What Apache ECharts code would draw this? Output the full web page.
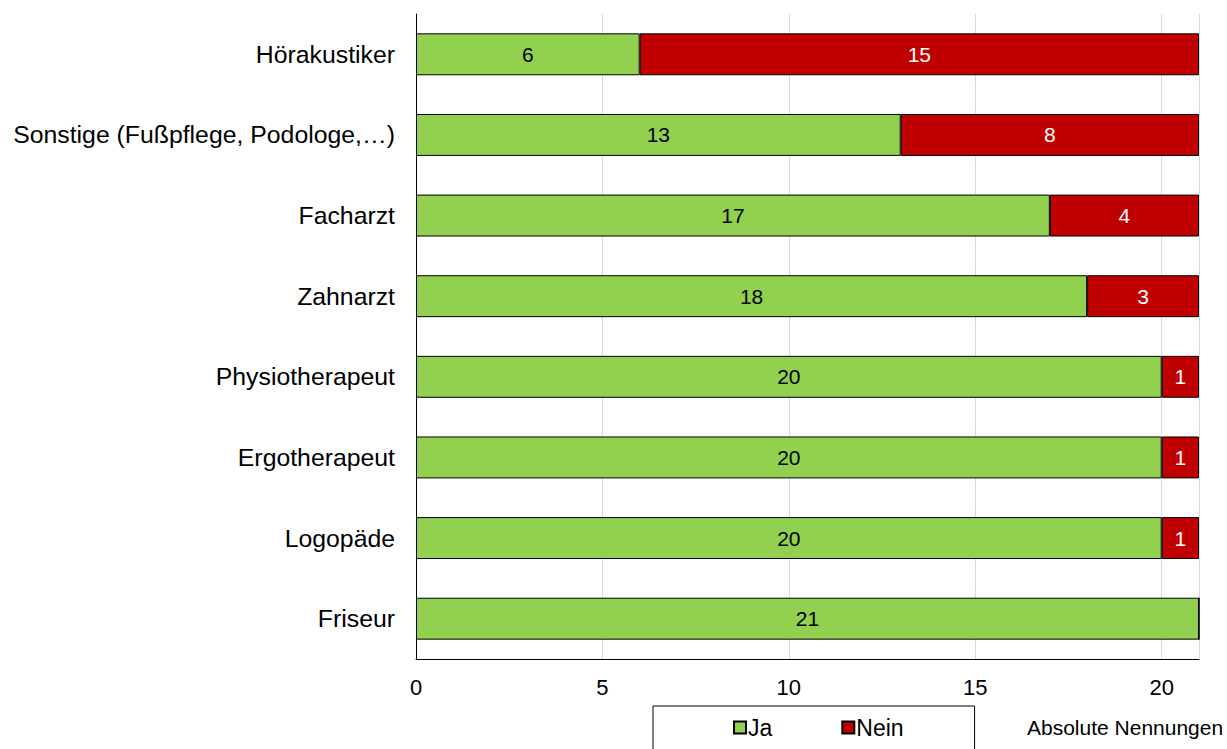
<!DOCTYPE html>
<html>
<head>
<meta charset="utf-8">
<script src="https://cdn.jsdelivr.net/npm/echarts@6/dist/echarts.min.js"></script>
<style>
  html, body { margin: 0; padding: 0; background: #fff; }
  #chart { width: 1227px; height: 749px; }
</style>
</head>
<body>
<div id="chart"></div>
<script>
var categories = ['Hörakustiker', 'Sonstige (Fußpflege, Podologe,…)', 'Facharzt', 'Zahnarzt',
  'Physiotherapeut', 'Ergotherapeut', 'Logopäde', 'Friseur']
var jaValues = [6, 13, 17, 18, 20, 20, 20, 21]
var neinValues = [15, 8, 4, 3, 1, 1, 1, 0]
var xTicks = [0, 5, 10, 15, 20]

var font = 'Liberation Sans, Arial, sans-serif'
var chart = echarts.init(document.getElementById('chart'), null, { renderer: 'svg' })

chart.setOption({
  animation: false,
  textStyle: { fontFamily: font },
  grid: { left: 416, right: 28, top: 14, height: 645, containLabel: false },
  xAxis: {
    type: 'value',
    min: 0,
    max: 21,
    interval: 5,
    axisLine: { show: true, lineStyle: { color: '#000', width: 1 } },
    axisTick: { show: false },
    splitLine: { lineStyle: { color: '#d9d9d9', width: 1 } },
    axisLabel: {
      color: '#000', fontSize: 22, margin: 17, fontFamily: font,
      formatter: function (v) { return xTicks.indexOf(v) >= 0 ? String(v) : '' }
    }
  },
  yAxis: {
    type: 'category',
    inverse: true,
    data: categories,
    axisLine: { show: true, lineStyle: { color: '#000', width: 1 } },
    axisTick: { show: false },
    axisLabel: { color: '#000', fontSize: 24.8, margin: 21, fontFamily: font }
  },
  legend: {
    left: 653,
    top: 706,
    orient: 'horizontal',
    data: ['Ja', 'Nein'],
    icon: 'rect',
    itemWidth: 12,
    itemHeight: 12,
    itemGap: 69,
    padding: [10, 71, 40, 80],
    borderColor: '#000',
    borderWidth: 1,
    textStyle: { color: '#000', fontSize: 23, fontFamily: font, padding: [0, 0, 0, -3] }
  },
  graphic: [{
    type: 'text',
    left: 1027,
    top: 717,
    style: { text: 'Absolute Nennungen', fill: '#000', font: '21px ' + font }
  }],
  series: [{
    name: 'Ja',
    type: 'bar',
    stack: 'total',
    barCategoryGap: '48%',
    data: jaValues,
    itemStyle: { color: '#92D050', borderColor: '#000', borderWidth: 1 },
    label: { show: true, position: 'inside', color: '#000', fontSize: 21, fontFamily: font }
  }, {
    name: 'Nein',
    type: 'bar',
    stack: 'total',
    data: neinValues,
    itemStyle: { color: '#C00000', borderColor: '#000', borderWidth: 1 },
    label: {
      show: true, position: 'inside', color: '#fff', fontSize: 21, fontFamily: font,
      formatter: function (p) { return p.value ? String(p.value) : '' }
    }
  }]
})
</script>
</body>
</html>
